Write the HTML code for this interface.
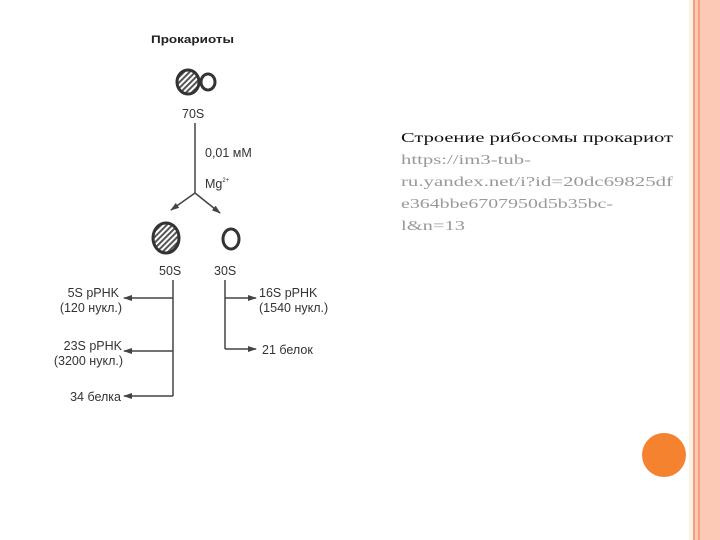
<!DOCTYPE html>
<html><head><meta charset="utf-8"><style>
html,body{margin:0;padding:0;background:#fff;}
body{width:720px;height:540px;position:relative;overflow:hidden;}
</style></head><body>
<svg width="720" height="540" viewBox="0 0 720 540" xmlns="http://www.w3.org/2000/svg" style="position:absolute;left:0;top:0">
<defs>
<pattern id="h" patternUnits="userSpaceOnUse" width="4" height="4" patternTransform="rotate(45)">
<rect width="4" height="4" fill="#fff"/><rect width="2" height="4" fill="#555"/>
</pattern>
<marker id="a" markerWidth="9" markerHeight="6" refX="8" refY="3" orient="auto" markerUnits="userSpaceOnUse">
<path d="M0,0 L9,3 L0,6 Z" fill="#444"/></marker>
</defs>
<rect x="689" y="0" width="31" height="540" fill="#fbc9b6"/>
<rect x="689" y="0" width="4" height="540" fill="#fdf0e4"/>
<rect x="693" y="0" width="2" height="540" fill="#f2a07e"/>
<rect x="698" y="0" width="2" height="540" fill="#f2a07e"/>
<circle cx="664" cy="455" r="22" fill="#f5822f"/>

<g font-family="Liberation Sans, sans-serif" fill="#333">
<text x="151" y="43" font-size="11" font-weight="bold" fill="#222" textLength="83" lengthAdjust="spacingAndGlyphs">Прокариоты</text>
<ellipse cx="188" cy="82" rx="11" ry="12" fill="url(#h)" stroke="#333" stroke-width="3"/>
<ellipse cx="208" cy="82" rx="7" ry="8" fill="#fff" stroke="#333" stroke-width="3"/>
<text x="182" y="118" font-size="12.5">70S</text>
<line x1="195" y1="123" x2="195" y2="193" stroke="#444" stroke-width="1.5"/>
<line x1="195" y1="193" x2="171" y2="210" stroke="#444" stroke-width="1.5" marker-end="url(#a)"/>
<line x1="195" y1="193" x2="220" y2="213" stroke="#444" stroke-width="1.5" marker-end="url(#a)"/>
<text x="205" y="157" font-size="12.5">0,01 мМ</text>
<text x="205" y="188" font-size="12.5">Mg<tspan font-size="6" dy="-6">2+</tspan></text>
<ellipse cx="166" cy="238" rx="13" ry="15" fill="url(#h)" stroke="#333" stroke-width="3"/>
<ellipse cx="231" cy="239" rx="8" ry="10" fill="#fff" stroke="#333" stroke-width="3"/>
<text x="159" y="275" font-size="12.5">50S</text>
<text x="214" y="275" font-size="12.5">30S</text>
<g stroke="#444" stroke-width="1.5" fill="none">
<line x1="173" y1="280" x2="173" y2="396"/>
<line x1="173" y1="298" x2="124" y2="298" marker-end="url(#a)"/>
<line x1="173" y1="351" x2="124" y2="351" marker-end="url(#a)"/>
<line x1="173" y1="396" x2="124" y2="396" marker-end="url(#a)"/>
<line x1="225" y1="280" x2="225" y2="349"/>
<line x1="225" y1="298" x2="256" y2="298" marker-end="url(#a)"/>
<line x1="225" y1="349" x2="256" y2="349" marker-end="url(#a)"/>
</g>
<g font-size="12.5" text-anchor="end">
<text x="119" y="297">5S  pPHK</text>
<text x="122" y="312">(120 нукл.)</text>
<text x="122" y="350">23S  pPHK</text>
<text x="123" y="365">(3200 нукл.)</text>
<text x="121" y="401">34 белка</text>
</g>
<g font-size="12.5">
<text x="259" y="297">16S  pPHK</text>
<text x="259" y="312">(1540 нукл.)</text>
<text x="262" y="354">21 белок</text>
</g>
</g>

<g font-family="Liberation Serif, serif" font-size="14">
<text x="401" y="142" fill="#111" textLength="272" lengthAdjust="spacingAndGlyphs">Строение рибосомы прокариот</text>
<g fill="#999">
<text x="401" y="164" textLength="130" lengthAdjust="spacingAndGlyphs">https://im3-tub-</text>
<text x="401" y="186" textLength="272" lengthAdjust="spacingAndGlyphs">ru.yandex.net/i?id=20dc69825df</text>
<text x="401" y="208" textLength="212" lengthAdjust="spacingAndGlyphs">e364bbe6707950d5b35bc-</text>
<text x="401" y="230" textLength="64" lengthAdjust="spacingAndGlyphs">l&amp;n=13</text>
</g>
</g>
</svg>
</body></html>
